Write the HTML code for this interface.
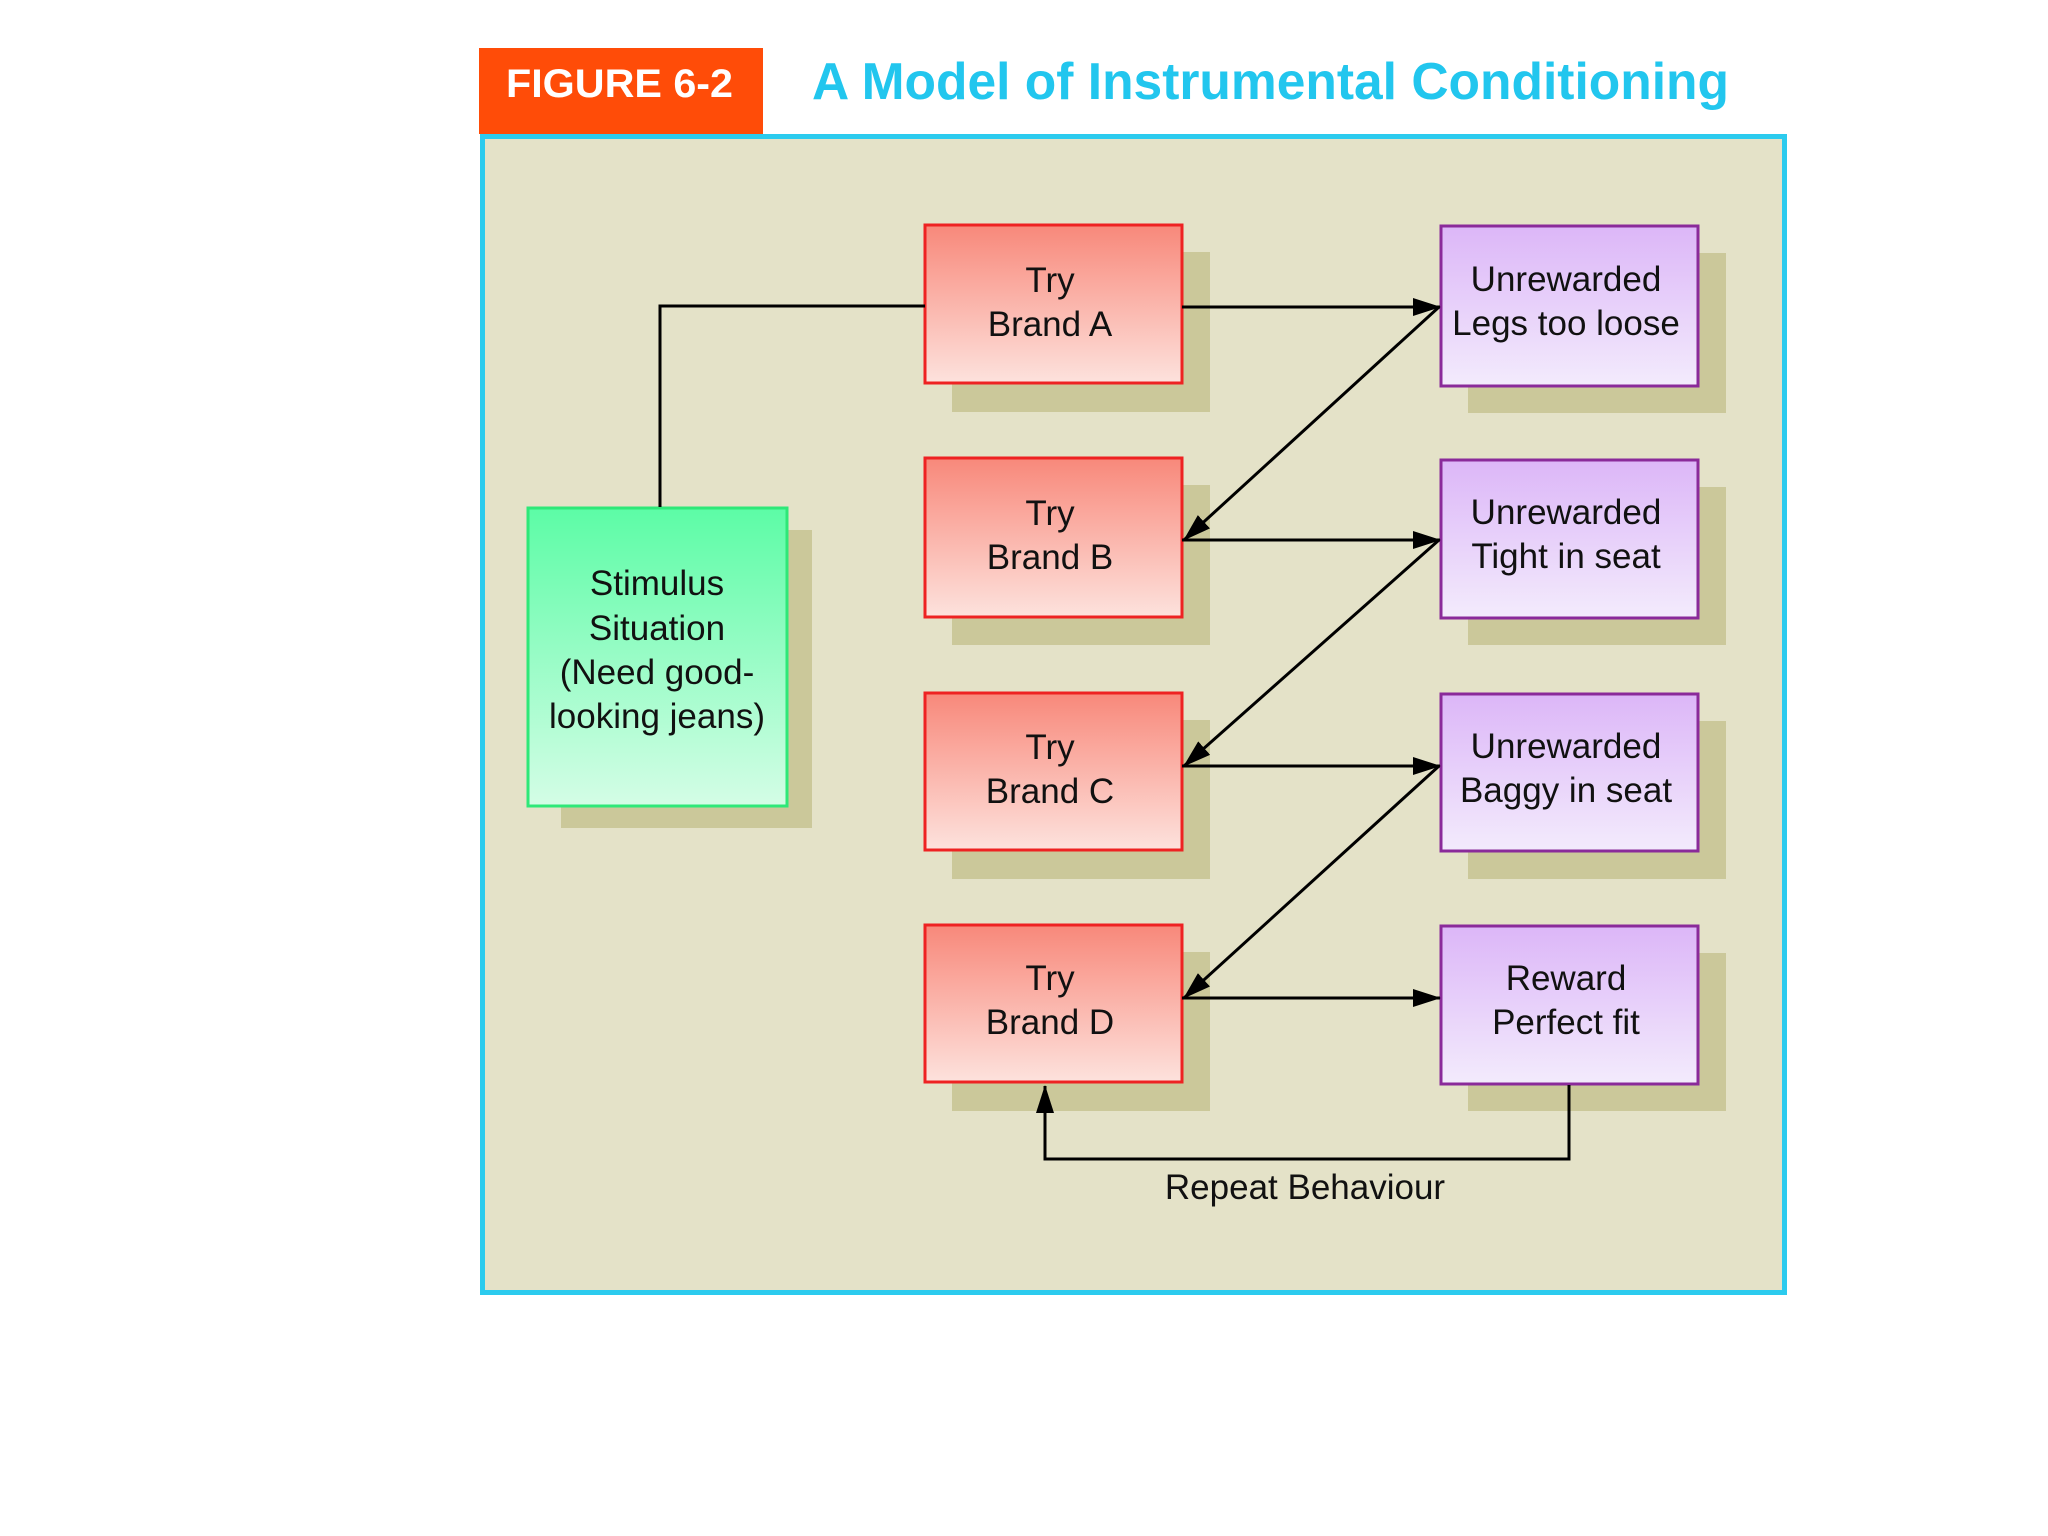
<!DOCTYPE html>
<html><head><meta charset="utf-8"><style>
html,body{margin:0;padding:0;background:#fff;width:2048px;height:1536px;overflow:hidden}
svg{display:block}
</style></head><body>
<svg width="2048" height="1536" viewBox="0 0 2048 1536" xmlns="http://www.w3.org/2000/svg">
<defs>
<linearGradient id="gr" x1="0" y1="0" x2="0" y2="1"><stop offset="0" stop-color="#f8887a"/><stop offset="1" stop-color="#fde2dd"/></linearGradient>
<linearGradient id="gp" x1="0" y1="0" x2="0" y2="1"><stop offset="0" stop-color="#dcb6f8"/><stop offset="1" stop-color="#f3ebfc"/></linearGradient>
<linearGradient id="gg" x1="0" y1="0" x2="0" y2="1"><stop offset="0" stop-color="#5cfca6"/><stop offset="1" stop-color="#d4fde6"/></linearGradient>
<marker id="ah" viewBox="0 0 28 18" refX="27" refY="9" markerWidth="28" markerHeight="18" markerUnits="userSpaceOnUse" orient="auto"><path d="M0,0 L28,9 L0,18 Z" fill="#000"/></marker>
</defs>
<rect x="479" y="48" width="284" height="86" fill="#ff4c08"/>
<text x="506" y="97" font-family="Liberation Sans, sans-serif" font-weight="bold" font-size="40" fill="#fff" textLength="227" lengthAdjust="spacingAndGlyphs">FIGURE 6-2</text>
<text x="812" y="99" font-family="Liberation Sans, sans-serif" font-weight="bold" font-size="52" fill="#22c6ee" textLength="917" lengthAdjust="spacingAndGlyphs">A Model of Instrumental Conditioning</text>
<rect x="482.5" y="136.5" width="1302" height="1156" fill="#e4e2c8" stroke="#2ccbee" stroke-width="5"/>
<g fill="#cbc89a">
<rect x="561" y="530" width="251" height="298"/>
<rect x="952" y="252" width="258" height="160"/><rect x="952" y="485" width="258" height="160"/><rect x="952" y="720" width="258" height="159"/><rect x="952" y="952" width="258" height="159"/>
<rect x="1468" y="253" width="258" height="160"/><rect x="1468" y="487" width="258" height="158"/><rect x="1468" y="721" width="258" height="158"/><rect x="1468" y="953" width="258" height="158"/>
</g>
<rect x="528" y="508" width="259" height="298" fill="url(#gg)" stroke="#2ee878" stroke-width="3"/>
<g fill="url(#gr)" stroke="#ee2222" stroke-width="3">
<rect x="925" y="225" width="257" height="158"/><rect x="925" y="458" width="257" height="159"/><rect x="925" y="693" width="257" height="157"/><rect x="925" y="925" width="257" height="157"/>
</g>
<g fill="url(#gp)" stroke="#8a2a9a" stroke-width="3">
<rect x="1441" y="226" width="257" height="160"/><rect x="1441" y="460" width="257" height="158"/><rect x="1441" y="694" width="257" height="157"/><rect x="1441" y="926" width="257" height="158"/>
</g>
<g stroke="#000" stroke-width="3" fill="none">
<polyline points="660,507 660,306 925,306"/>
<line x1="1182" y1="307" x2="1440" y2="307" marker-end="url(#ah)"/>
<line x1="1182" y1="540" x2="1440" y2="540" marker-end="url(#ah)"/>
<line x1="1182" y1="766" x2="1440" y2="766" marker-end="url(#ah)"/>
<line x1="1182" y1="998" x2="1440" y2="998" marker-end="url(#ah)"/>
<line x1="1439" y1="307" x2="1184" y2="540" marker-end="url(#ah)"/>
<line x1="1439" y1="540" x2="1184" y2="766" marker-end="url(#ah)"/>
<line x1="1439" y1="766" x2="1184" y2="998" marker-end="url(#ah)"/>
<polyline points="1569,1085 1569,1159 1045,1159 1045,1086" marker-end="url(#ah)"/>
</g>
<g font-family="Liberation Sans, sans-serif" font-size="35" fill="#111" text-anchor="middle">
<text x="657" y="595">Stimulus</text><text x="657" y="640">Situation</text><text x="657" y="684">(Need good-</text><text x="657" y="728">looking jeans)</text>
<text x="1050" y="292">Try</text><text x="1050" y="336">Brand A</text>
<text x="1050" y="525">Try</text><text x="1050" y="569">Brand B</text>
<text x="1050" y="759">Try</text><text x="1050" y="803">Brand C</text>
<text x="1050" y="990">Try</text><text x="1050" y="1034">Brand D</text>
<text x="1566" y="291">Unrewarded</text><text x="1566" y="335">Legs too loose</text>
<text x="1566" y="524">Unrewarded</text><text x="1566" y="568">Tight in seat</text>
<text x="1566" y="758">Unrewarded</text><text x="1566" y="802">Baggy in seat</text>
<text x="1566" y="990">Reward</text><text x="1566" y="1034">Perfect fit</text>
<text x="1305" y="1199">Repeat Behaviour</text>
</g>
</svg>
</body></html>
